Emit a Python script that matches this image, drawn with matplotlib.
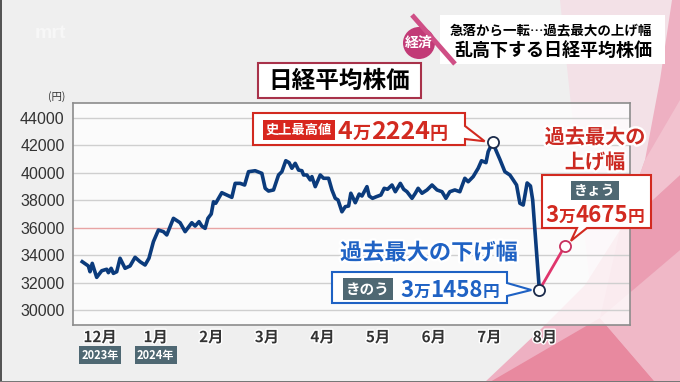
import matplotlib.pyplot as plt
import matplotlib.patheffects as pe
from matplotlib.patches import Polygon, Rectangle, Circle

JP = ['Noto Sans CJK JP', 'DejaVu Sans']
NUM = ['Liberation Sans Narrow', 'Liberation Sans', 'DejaVu Sans']
plt.rcParams['font.family'] = JP

# --------- データ (x: 月位置, 0 = 12月) ---------
month_pos = [-0.32, -0.21, -0.18, -0.14, -0.06, 0.03, 0.12, 0.15, 0.20, 0.24, 0.30, 0.36,
             0.45, 0.54, 0.63, 0.72, 0.81, 0.88, 0.96, 1.05, 1.14, 1.20, 1.32, 1.44,
             1.53, 1.65, 1.71, 1.78, 1.83, 1.89, 1.94, 2.00, 2.04, 2.08, 2.19, 2.28,
             2.37, 2.43, 2.52, 2.60, 2.67, 2.79, 2.91, 2.97, 3.03, 3.12, 3.21, 3.27,
             3.34, 3.40, 3.45, 3.51, 3.57, 3.63, 3.66, 3.72, 3.78, 3.81, 3.87, 3.96,
             4.02, 4.11, 4.17, 4.23, 4.28, 4.35, 4.41, 4.47, 4.51, 4.59, 4.66, 4.71,
             4.80, 4.84, 4.90, 4.97, 5.05, 5.11, 5.17, 5.25, 5.31, 5.40, 5.46, 5.52,
             5.61, 5.67, 5.72, 5.79, 5.88, 5.97, 6.06, 6.15, 6.22, 6.29, 6.38, 6.47,
             6.56, 6.62, 6.71, 6.80, 6.86, 6.94, 6.98, 7.06, 7.13, 7.19, 7.28, 7.37,
             7.43, 7.49, 7.55, 7.61, 7.68, 7.74, 7.78, 7.82, 7.90]
nikkei = [33520, 33210, 32790, 33400, 32380, 32860, 32970, 32720, 33040, 32670, 32790, 33770,
          33040, 33210, 33840, 33520, 33280, 33770, 34980, 35830, 35710, 35470, 36680, 36360,
          35710, 36360, 36120, 36440, 36120, 35950, 36680, 37000, 37890, 37780, 38550, 38380,
          38210, 39230, 39230, 39110, 40080, 40150, 39960, 38870, 38670, 38750, 39840, 40080,
          40880, 40740, 40330, 40690, 40200, 40150, 39840, 39840, 39480, 39720, 38990, 39840,
          39600, 39600, 38750, 38140, 38020, 37160, 37530, 37580, 38510, 37820, 38450, 38310,
          38990, 38310, 38140, 38260, 38380, 38870, 38800, 39110, 38620, 39230, 38800, 38620,
          38140, 38510, 38870, 38510, 38750, 39110, 38750, 38620, 38140, 38620, 38750, 38620,
          39600, 39350, 39720, 40330, 40880, 40740, 41540, 42224, 41540, 40980, 40080, 39840,
          39480, 39110, 37780, 37650, 39260, 39040, 38020, 35830, 31458]
today_pos, today_val = 8.36, 34675

months = ['12月', '1月', '2月', '3月', '4月', '5月', '6月', '7月', '8月']
years = [('2023年', 0), ('2024年', 1)]
y_ticks = list(range(30000, 44001, 2000))

W, H = 680, 382
NAVY = '#0b3b7c'
RED = '#d22a20'
BLUE = '#1f62c4'
SLATE = '#4f6873'

fig = plt.figure(figsize=(W / 100, H / 100), dpi=100, facecolor='#efefef')


def px_axes(z):
    a = fig.add_axes([0, 0, 1, 1], zorder=z)
    a.set_xlim(0, W)
    a.set_ylim(H, 0)
    a.axis('off')
    return a


# --------- 背景 ---------
bg = px_axes(0)
bg.add_patch(Polygon([(560, 0), (680, 0), (680, 382), (600, 382)], fc='#f3e1e7', ec='none'))
bg.add_patch(Polygon([(485, 382), (540, 330), (585, 285), (620, 230), (645, 160), (660, 80),
                      (672, 0), (680, 0), (680, 382)], fc='#eeb0c2', ec='none'))
bg.add_patch(Polygon([(490, 382), (600, 318), (655, 382)], fc='#e8899f', ec='none'))
bg.add_patch(Polygon([(600, 318), (680, 250), (680, 382), (655, 382)], fc='#f0b8c7', ec='none'))
bg.add_patch(Polygon([(620, 230), (680, 175), (680, 250), (600, 318)], fc='#eb9db2', ec='none'))
bg.add_patch(Polygon([(645, 160), (680, 100), (680, 175), (620, 230)], fc='#f2c2cf', ec='none'))
bg.add_patch(Rectangle((0, 0), 1.5, H, fc='#555555', ec='none'))
bg.add_patch(Rectangle((0, H - 1.5), W, 1.5, fc='#777777', ec='none'))
bg.text(50, 33, 'mrt', fontsize=14, color='white', alpha=0.5, fontweight='bold',
        ha='center', va='center', family=NUM)

# --------- グラフ本体 ---------
ax = fig.add_axes([73 / W, 1 - 325 / H, (630 - 73) / W, (325 - 103) / H], zorder=2)
ax.set_facecolor((1, 1, 1, 0.8))
ax.set_xlim(-0.486, 9.53)
ax.set_ylim(28907, 45087)
for v in y_ticks:
    ax.axhline(v, color='#e8a4a4' if v == 36000 else '#cfcfcf', lw=1, zorder=1)
ax.plot(month_pos, nikkei, color=NAVY, lw=2.6, solid_joinstyle='round', zorder=3)
ax.plot([month_pos[-1], today_pos], [nikkei[-1], today_val], color='#e0356c', lw=2, zorder=3)

i_peak = nikkei.index(max(nikkei))
ax.plot([month_pos[i_peak], month_pos[-1]], [nikkei[i_peak], nikkei[-1]], 'o', ms=8,
        mfc='white', mec='#1b2b4b', mew=1.3, zorder=4)
ax.plot([today_pos], [today_val], 'o', ms=8, mfc='white', mec='#c8305e', mew=1.3, zorder=4)

ax.set_yticks(y_ticks, labels=[str(v) for v in y_ticks], fontsize=11.5, color='#333333', family=NUM)
ax.set_xticks(range(len(months)), labels=months, fontsize=11, fontweight='bold', color='#333333',
              path_effects=[pe.withStroke(linewidth=2, foreground='white')])
ax.tick_params(axis='y', length=0, pad=6)
ax.tick_params(axis='x', length=0, pad=3)
for s in ax.spines.values():
    s.set_color('#8c8c8c')
    s.set_linewidth(1.2)

# --------- 注釈 ---------
ov = px_axes(3)


def to_px(x, y):
    return ov.transData.inverted().transform(ax.transData.transform((x, y)))


def rich(x, y, pieces, color, center=False):
    # サイズ違いの文字を横に並べる
    r = fig.canvas.get_renderer()
    arts, widths = [], []
    for s, size in pieces:
        t = ov.text(0, y, s, fontsize=size, color=color, fontweight='bold', va='baseline')
        arts.append(t)
        widths.append(t.get_window_extent(r).width)
    x0 = x - sum(widths) / 2 if center else x
    for t, w in zip(arts, widths):
        t.set_x(x0)
        x0 += w


def badge(x, y, s, fc, size):
    ov.text(x, y, s, fontsize=size, color='white', ha='center', va='center', fontweight='bold',
            bbox=dict(boxstyle='square,pad=0.2', fc=fc, ec='none'))


# 年ラベル
for s, m in years:
    badge(to_px(m, 0)[0], 355, s, SLATE, 8)
ov.text(57, 97, '(円)', fontsize=7.5, color='#333333', ha='center', va='center')

# 見出し
ov.add_patch(Rectangle((440, 15), 225, 49, fc='white', ec='none'))
ov.plot([412, 455], [15, 64], color='#cf4f86', lw=3.5, solid_capstyle='butt')
ov.add_patch(Circle((419, 43), 16, fc='#c23a76', ec='none'))
ov.text(419, 43, '経済', fontsize=10, color='white', fontweight='bold', ha='center', va='center')
ov.text(551, 30, '急落から一転…過去最大の上げ幅', fontsize=9.7, fontweight='bold', ha='center', va='center')
ov.text(553, 50, '乱高下する日経平均株価', fontsize=13, fontweight='bold', ha='center', va='center')

ov.add_patch(Rectangle((258, 63), 163, 35, fc='white', ec='#a8324a', lw=1.5))
ov.text(339.5, 81, '日経平均株価', fontsize=17, fontweight='bold', ha='center', va='center')

# 史上最高値
px_peak = to_px(month_pos[i_peak], nikkei[i_peak])
ov.add_patch(Polygon([(253, 113), (465, 113), (465, 126), (px_peak[0] - 8, px_peak[1] - 1),
                      (465, 139), (465, 145), (253, 145)], fc='white', ec=RED, lw=1.5))
badge(299, 130, '史上最高値', '#d8261e', 9.5)
rich(338, 139, [('4', 18), ('万', 13), ('2224', 18), ('円', 13)], RED)

# 過去最大の上げ幅
red_fx = [pe.withStroke(linewidth=3.5, foreground='white')]
ov.text(595, 137, '過去最大の', fontsize=14.5, color='#cc2a22', fontweight='bold', ha='center',
        va='center', path_effects=red_fx)
ov.text(595, 162, '上げ幅', fontsize=14.5, color='#cc2a22', fontweight='bold', ha='center',
        va='center', path_effects=red_fx)
px_today = to_px(today_pos, today_val)
ov.add_patch(Polygon([(542, 175), (651, 175), (651, 228), (587, 228), (px_today[0] + 6, px_today[1] - 5),
                      (577, 228), (542, 228)], fc='white', ec=RED, lw=1.5))
badge(595, 190.5, 'きょう', SLATE, 10)
rich(595, 222, [('3', 16), ('万', 12), ('4675', 16), ('円', 12)], RED, center=True)

# 過去最大の下げ幅
ov.text(429, 253, '過去最大の下げ幅', fontsize=16, color=BLUE, fontweight='bold', ha='center',
        va='center', path_effects=[pe.withStroke(linewidth=3.5, foreground='white')])
px_low = to_px(month_pos[-1], nikkei[-1])
ov.add_patch(Polygon([(332, 272), (507, 272), (507, 283), (px_low[0] - 8, px_low[1]),
                      (507, 296), (507, 303), (332, 303)], fc='white', ec=BLUE, lw=1.5))
badge(368, 289, 'きのう', SLATE, 10.5)
rich(400, 297, [('3', 16), ('万', 12), ('1458', 16), ('円', 12)], BLUE)

fig.savefig('out.png', dpi=100, facecolor=fig.get_facecolor())
